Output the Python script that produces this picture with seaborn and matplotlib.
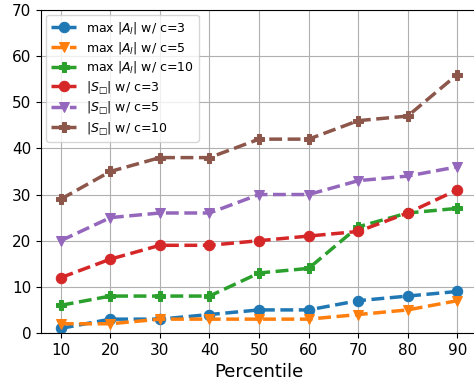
import matplotlib
matplotlib.use("Agg")
import matplotlib.pyplot as plt
import seaborn as sns
import pandas as pd

percentiles = [10, 20, 30, 40, 50, 60, 70, 80, 90]
max_a_c3 = [1, 3, 3, 4, 5, 5, 7, 8, 9]
max_a_c5 = [2, 2, 3, 3, 3, 3, 4, 5, 7]
max_a_c10 = [6, 8, 8, 8, 13, 14, 23, 26, 27]
s_c3 = [12, 16, 19, 19, 20, 21, 22, 26, 31]
s_c5 = [20, 25, 26, 26, 30, 30, 33, 34, 36]
s_c10 = [29, 35, 38, 38, 42, 42, 46, 47, 56]

labels = [r"max $|A_l|$ w/ c=3", r"max $|A_l|$ w/ c=5", r"max $|A_l|$ w/ c=10",
          r"$|S_{□}|$ w/ c=3", r"$|S_{□}|$ w/ c=5", r"$|S_{□}|$ w/ c=10"]
series = [max_a_c3, max_a_c5, max_a_c10, s_c3, s_c5, s_c10]
colors = ["#1f77b4", "#ff7f0e", "#2ca02c", "#d62728", "#9467bd", "#8c564b"]
markers = ["o", "v", "P", "o", "v", "P"]

fig = plt.figure(figsize=(4.74, 3.81), dpi=100)
ax = fig.add_axes([0.0865, 0.126, 0.92, 0.848])

for lab, vals, col, mk in zip(labels, series, colors, markers):
    df = pd.DataFrame({"x": percentiles, "y": vals})
    sns.lineplot(data=df, x="x", y="y", ax=ax, color=col, marker=mk,
                 linestyle="--", linewidth=2.5, markersize=7.5,
                 markeredgecolor=col, label=lab)

ax.set_xlim(6, 94)
ax.set_ylim(0, 70)
ax.set_xticks(percentiles)
ax.set_yticks(range(0, 71, 10))
ax.grid(True, color="#b0b0b0", linewidth=0.8)
ax.set_axisbelow(True)
ax.tick_params(labelsize=11)
ax.set_xlabel("Percentile", fontsize=13)
ax.set_ylabel("")
ax.legend(loc="upper left", fontsize=9, framealpha=0.8, handlelength=2.0,
          labelspacing=0.3, borderaxespad=0.4)

fig.savefig("out.png", dpi=100)
